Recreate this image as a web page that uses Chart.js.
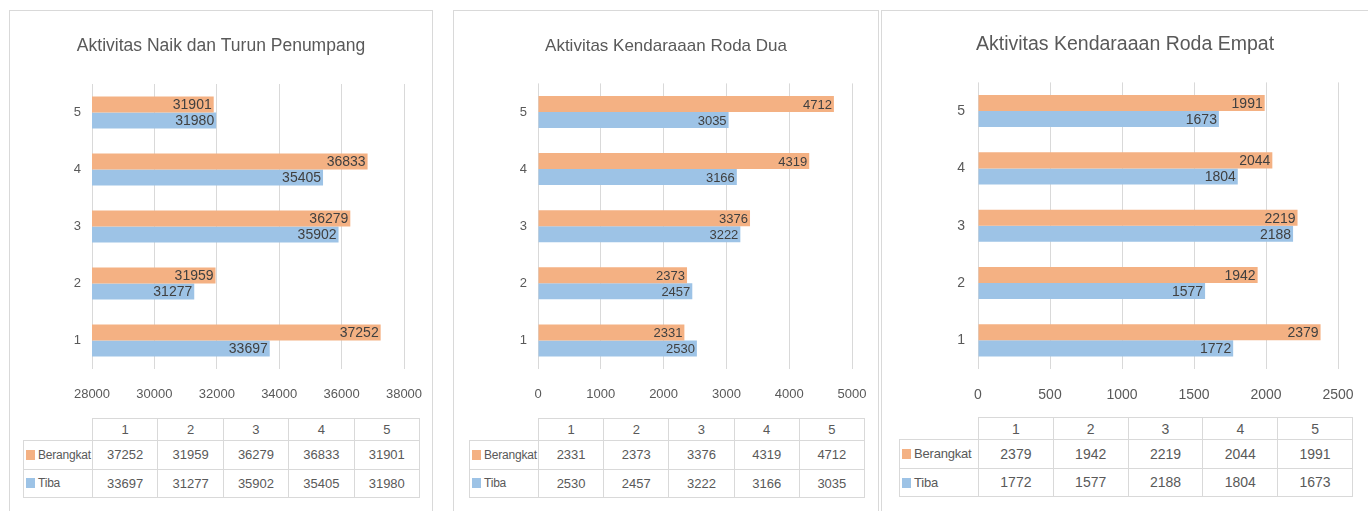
<!DOCTYPE html>
<html>
<head>
<meta charset="utf-8">
<script src="https://cdn.jsdelivr.net/npm/chart.js@4"></script>
<style>
  body { margin: 0; background: #fff; width: 1368px; height: 511px; overflow: hidden; position: relative; }
  .panel { position: absolute; top: 10px; height: 520px; border: 1px solid #d9d9d9; box-sizing: border-box; background: #fff; }
  .panel canvas { position: absolute; left: 0; top: 0; }
  table.data { position: absolute; border-collapse: collapse; color: #595959; table-layout: fixed;
    font-family: "Liberation Sans", sans-serif; }
  table.data td { border: 1px solid #d9d9d9; text-align: center; padding: 0; }
  table.data td.corner { border-top: none; border-left: none; }
  table.data td.name { text-align: left; padding-left: 2px; white-space: nowrap; letter-spacing: -0.2px; }
  .key { display: inline-block; width: 9px; height: 10px; margin-right: 3px; vertical-align: -1px; }
</style>
</head>
<body>
<div class="panel" id="p1" style="left:9px;width:424px"><canvas id="c1"></canvas></div>
<div class="panel" id="p2" style="left:453px;width:426px"><canvas id="c2"></canvas></div>
<div class="panel" id="p3" style="left:881px;width:490px"><canvas id="c3"></canvas></div>
<script>
// ********* DATA *********
const categories = ["1", "2", "3", "4", "5"];
const seriesNames = ["Berangkat", "Tiba"];

const penumpangBerangkat = [37252, 31959, 36279, 36833, 31901];
const penumpangTiba = [33697, 31277, 35902, 35405, 31980];
const penumpangTicks = [28000, 30000, 32000, 34000, 36000, 38000];

const rodaDuaBerangkat = [2331, 2373, 3376, 4319, 4712];
const rodaDuaTiba = [2530, 2457, 3222, 3166, 3035];
const rodaDuaTicks = [0, 1000, 2000, 3000, 4000, 5000];

const rodaEmpatBerangkat = [2379, 1942, 2219, 2044, 1991];
const rodaEmpatTiba = [1772, 1577, 2188, 1804, 1673];
const rodaEmpatTicks = [0, 500, 1000, 1500, 2000, 2500];

const FONT = '"Liberation Sans", sans-serif';
const orange = "#f4b183";
const blue = "#9dc3e6";

// value labels at the end of every bar
const barLabels = {
  id: "barLabels",
  afterDatasetsDraw(chart, args, opts) {
    const ctx = chart.ctx;
    ctx.save();
    ctx.font = opts.size + "px " + FONT;
    ctx.fillStyle = "#404040";
    ctx.textAlign = "right";
    ctx.textBaseline = "middle";
    chart.data.datasets.forEach((ds, i) => {
      chart.getDatasetMeta(i).data.forEach((bar, j) => {
        ctx.fillText(ds.data[j], bar.x - 2, bar.y + 1);
      });
    });
    ctx.restore();
  },
};

// ********* CHART *********
const makeChart = (canvasId, title, berangkat, tiba, ticks, lay) => {
  const cv = document.getElementById(canvasId);
  cv.width = lay.w;
  cv.height = lay.h;
  // top category (5) first, Berangkat above Tiba
  const labels = categories.slice().reverse();
  return new Chart(cv, {
    type: "bar",
    data: {
      labels: labels,
      datasets: [
        { label: seriesNames[0], data: berangkat.slice().reverse(), backgroundColor: orange },
        { label: seriesNames[1], data: tiba.slice().reverse(), backgroundColor: blue },
      ],
    },
    plugins: [barLabels],
    options: {
      indexAxis: "y",
      responsive: false,
      animation: false,
      categoryPercentage: 0.56,
      barPercentage: 1,
      layout: { padding: { left: lay.pad, right: lay.pad, top: 0, bottom: 0 } },
      plugins: {
        legend: { display: false },
        tooltip: { enabled: false },
        barLabels: { size: lay.label },
        title: {
          display: true,
          text: title,
          color: "#595959",
          font: { family: FONT, size: lay.title, weight: "normal" },
          padding: { top: lay.titleTop, bottom: lay.titleBottom },
        },
      },
      scales: {
        x: {
          min: ticks[0],
          max: ticks[ticks.length - 1],
          afterFit: (s) => {
            s.height = lay.h - lay.plotBottom;
            s.paddingLeft = 0;
            s.paddingRight = 0;
          },
          ticks: { stepSize: ticks[1] - ticks[0], color: "#595959", padding: lay.xPad,
            font: { family: FONT, size: lay.tick }, callback: (v) => String(v) },
          grid: { color: "#d9d9d9", drawTicks: false },
          border: { display: false },
        },
        y: {
          afterFit: (s) => { s.width = lay.yWidth; },
          ticks: { color: "#595959", padding: lay.yPad, font: { family: FONT, size: lay.tick } },
          grid: { display: false, drawTicks: false },
          border: { display: false },
        },
      },
    },
  });
};

// ********* TABLE *********
const makeTable = (panelId, berangkat, tiba, tb) => {
  const t = document.createElement("table");
  t.className = "data";
  t.style.left = tb.x + "px";
  t.style.top = tb.y + "px";
  t.style.fontSize = tb.size + "px";
  let html = "<colgroup><col style='width:" + tb.nameW + "px'>";
  categories.forEach(() => { html += "<col style='width:" + tb.colW + "px'>"; });
  html += "</colgroup><tr style='height:" + tb.headH + "px'><td class='corner'></td>";
  categories.forEach((c) => { html += "<td>" + c + "</td>"; });
  html += "</tr>";
  [[seriesNames[0], orange, berangkat], [seriesNames[1], blue, tiba]].forEach((r) => {
    html += "<tr style='height:" + tb.rowH + "px'><td class='name' style='font-size:" + tb.nameSize +
      "px'><span class='key' style='background:" + r[1] + "'></span>" + r[0] + "</td>";
    r[2].forEach((v) => { html += "<td>" + v + "</td>"; });
    html += "</tr>";
  });
  t.innerHTML = html;
  document.getElementById(panelId).appendChild(t);
};

makeChart("c1", "Aktivitas Naik dan Turun Penumpang", penumpangBerangkat, penumpangTiba, penumpangTicks,
  { w: 422, h: 398, pad: 28, yWidth: 54, yPad: 11, plotBottom: 358, xPad: 18,
    title: 17.5, titleTop: 25, titleBottom: 27, tick: 13, label: 14 });
makeChart("c2", "Aktivitas Kendaraaan Roda Dua", rodaDuaBerangkat, rodaDuaTiba, rodaDuaTicks,
  { w: 424, h: 398, pad: 26, yWidth: 58, yPad: 11, plotBottom: 358, xPad: 18,
    title: 17, titleTop: 25, titleBottom: 27, tick: 13, label: 13 });
makeChart("c3", "Aktivitas Kendaraaan Roda Empat", rodaEmpatBerangkat, rodaEmpatTiba, rodaEmpatTicks,
  { w: 486, h: 398, pad: 30, yWidth: 66, yPad: 13, plotBottom: 358, xPad: 18,
    title: 19.5, titleTop: 22, titleBottom: 26, tick: 14, label: 14 });

makeTable("p1", penumpangBerangkat, penumpangTiba,
  { x: 13, y: 407, nameW: 69, colW: 65.4, headH: 22, rowH: 28.5, size: 13, nameSize: 12 });
makeTable("p2", rodaDuaBerangkat, rodaDuaTiba,
  { x: 15, y: 407, nameW: 69, colW: 65.2, headH: 22, rowH: 28.5, size: 13, nameSize: 12 });
makeTable("p3", rodaEmpatBerangkat, rodaEmpatTiba,
  { x: 17, y: 406, nameW: 79, colW: 74.8, headH: 22, rowH: 28.5, size: 14, nameSize: 13 });
</script>
</body>
</html>
